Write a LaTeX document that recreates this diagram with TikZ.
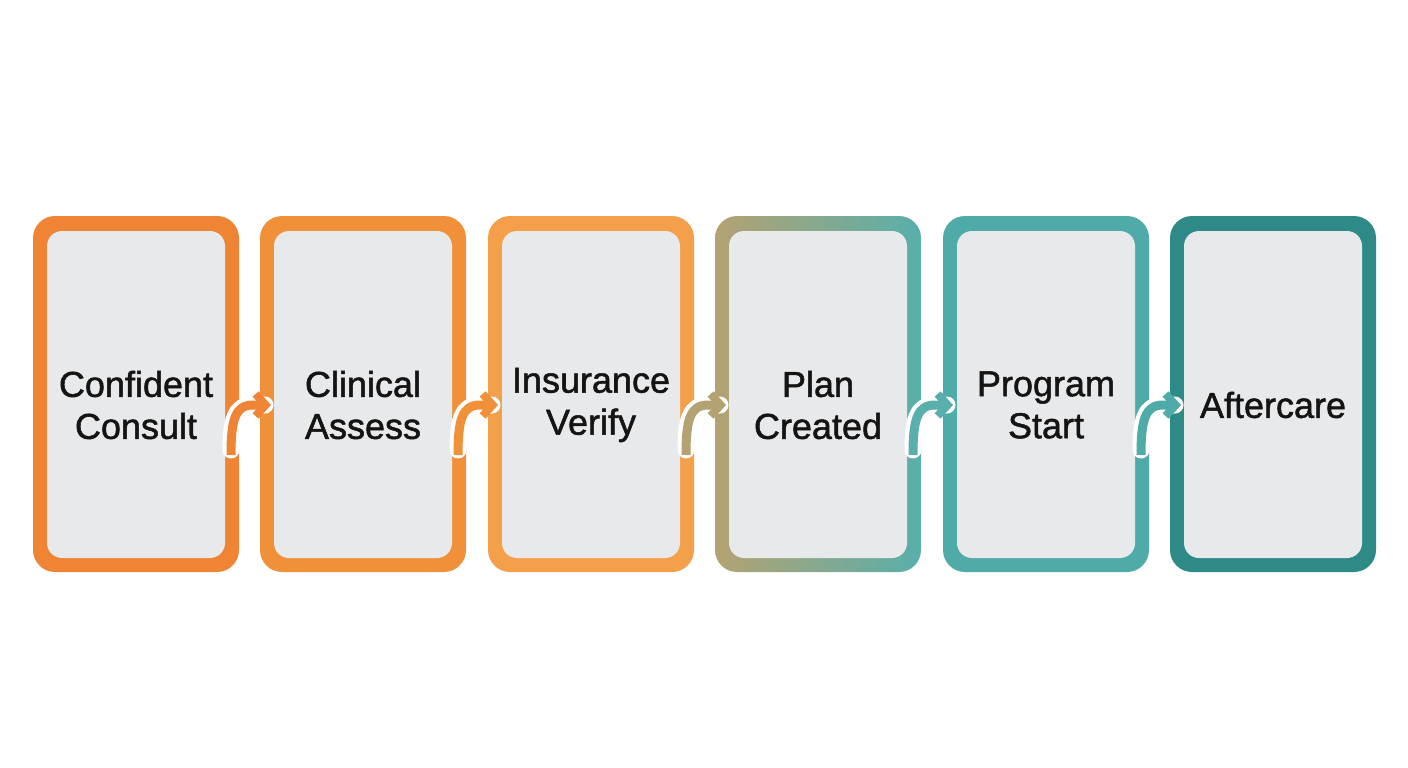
\documentclass[tikz,border=0pt]{standalone}
\usepackage{fontspec}
\setmainfont{Liberation Sans}
\newfontfamily\lblfont{Liberation Sans}[FakeBold=1.4]
\usetikzlibrary{arrows.meta}
\definecolor{c1}{HTML}{EE8434}
\definecolor{c2}{HTML}{F0913A}
\definecolor{c3}{HTML}{F4A04A}
\definecolor{c4a}{HTML}{B4A272}
\definecolor{c4b}{HTML}{58AFAB}
\definecolor{c5}{HTML}{4FABA8}
\definecolor{c6}{HTML}{2E8A86}
\definecolor{inner}{HTML}{E7E9EB}
\begin{document}
\begin{tikzpicture}[x=1pt,y=-1pt,
  outer/.style={rounded corners=22pt},
  inn/.style={fill=inner,rounded corners=15pt},
  lbl/.style={font=\lblfont\fontsize{36}{42}\selectfont,align=center,text=black!92},
  arr/.style={line width=9pt,-{Straight Barb[length=10pt,width=22pt,line width=8pt]}}]
\useasboundingbox (0,0) rectangle (1408,768);
\fill[white] (0,0) rectangle (1408,768);
\foreach \x/\c/\n in {33/c1/a,260/c2/b,488/c3/c,943/c5/e,1170/c6/f}{
  \fill[\c,outer] (\x,216) rectangle ++(206,356);
}
\shade[outer,left color=c4a,right color=c4b] (715,216) rectangle ++(206,356);
\foreach \x/\n in {33/a,260/b,488/c,715/d,943/e,1170/f}{
  \fill[inn] (\x+14,231) rectangle ++(178,327);
  \coordinate (\n) at (\x+103,405);
}
\node[lbl] (ta) at (a) {Confident\\Consult};
\node[lbl] (tb) at (b) {Clinical\\Assess};
\node[lbl] (tc) at (c) {Insurance\\Verify};
\node[lbl] (td) at (d) {Plan\\Created};
\node[lbl] (te) at (e) {Program\\Start};
\node[lbl] (tf) at (f) {Aftercare};
\foreach \x/\c in {231/c1,458/c2,686/c4a,913/c4b,1141/c5}{
  \draw[white,line width=17pt,line cap=round] (\x,450) .. controls (\x,420) and (\x+4,405) .. (\x+22,405) -- (\x+34,405);
  \draw[\c,arr] (\x,455) .. controls (\x,420) and (\x+4,405) .. (\x+22,405) -- (\x+40,405);
}
\end{tikzpicture}
\end{document}
